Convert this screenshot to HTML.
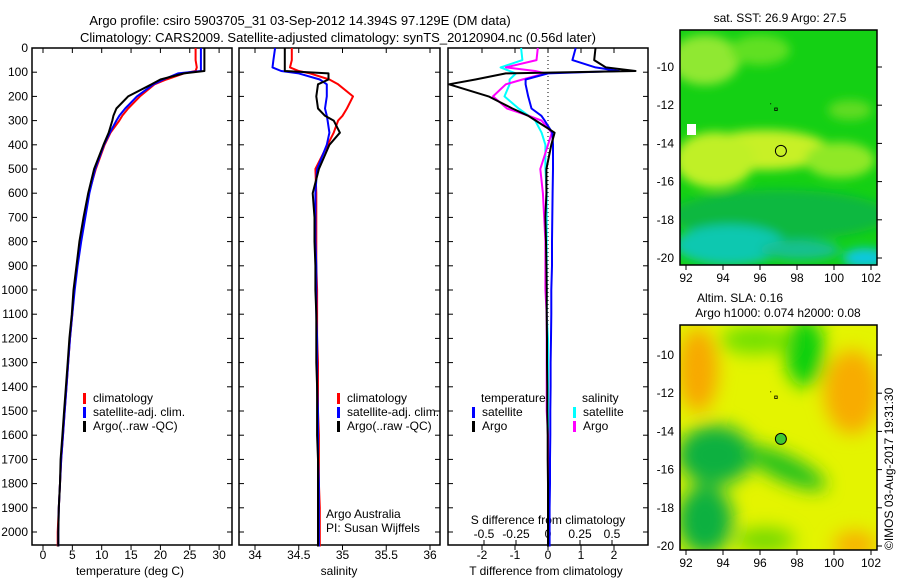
<!DOCTYPE html>
<html><head><meta charset="utf-8"><style>
html,body{margin:0;padding:0;background:#fff}
svg{display:block;font-family:"Liberation Sans",sans-serif}
text{font-size:12px;fill:#000}
</style></head><body>
<svg id="root" width="900" height="580" viewBox="0 0 900 580">
<defs>
<filter id="bl1" x="-50%" y="-50%" width="200%" height="200%"><feGaussianBlur stdDeviation="5"/></filter>
<filter id="bl2" x="-50%" y="-50%" width="200%" height="200%"><feGaussianBlur stdDeviation="9"/></filter>
<clipPath id="c1"><rect x="680" y="30" width="197" height="235"/></clipPath>
<clipPath id="c2"><rect x="680" y="325" width="197" height="225"/></clipPath>
</defs>
<text x="300" y="25" text-anchor="middle" style="font-size:13px">Argo profile: csiro 5903705_31 03-Sep-2012 14.394S 97.129E (DM data)</text>
<text x="338" y="42" text-anchor="middle" style="font-size:13px">Climatology: CARS2009. Satellite-adjusted climatology: synTS_20120904.nc (0.56d later)</text>
<g id="p1"></g>
<g id="p2"></g>
<g id="p3"></g>
<g id="m1" clip-path="url(#c1)">
 <rect x="680" y="30" width="197" height="235" fill="#14d014"/>
 <g filter="url(#bl1)">
  <ellipse cx="705" cy="60" rx="35" ry="25" fill="#90e830"/>
  <ellipse cx="760" cy="50" rx="30" ry="15" fill="#60e020"/>
  <ellipse cx="765" cy="150" rx="65" ry="20" fill="#c8f028"/>
  <ellipse cx="715" cy="160" rx="40" ry="28" fill="#c0f028"/>
  <ellipse cx="840" cy="160" rx="35" ry="18" fill="#90e828"/>
  <ellipse cx="850" cy="110" rx="22" ry="10" fill="#60dc20"/>
  <ellipse cx="780" cy="215" rx="110" ry="25" fill="#10b840"/>
  <ellipse cx="730" cy="245" rx="55" ry="20" fill="#10c8b0"/>
  <ellipse cx="865" cy="258" rx="22" ry="10" fill="#10c8e0"/>
  <ellipse cx="800" cy="250" rx="40" ry="10" fill="#18c090"/>
 </g>
 <rect x="687" y="124" width="9" height="11" fill="#fff"/>
</g>
<g id="m2" clip-path="url(#c2)">
 <rect x="680" y="325" width="197" height="225" fill="#e4f400"/>
 <g filter="url(#bl2)">
  <ellipse cx="698" cy="370" rx="20" ry="42" fill="#f8a800"/>
  <ellipse cx="852" cy="392" rx="28" ry="42" fill="#f8ac00"/>
  <ellipse cx="855" cy="545" rx="22" ry="14" fill="#f8b000"/>
  <ellipse cx="805" cy="352" rx="20" ry="35" fill="#10d010"/>
  <ellipse cx="755" cy="340" rx="35" ry="14" fill="#70e000"/>
  <ellipse cx="715" cy="455" rx="38" ry="30" fill="#10b040"/>
  <ellipse cx="785" cy="468" rx="45" ry="13" fill="#20c020" transform="rotate(25 785 468)"/>
  <ellipse cx="705" cy="520" rx="28" ry="35" fill="#10b040"/>
  <ellipse cx="765" cy="540" rx="30" ry="12" fill="#70d800"/>
 </g>
</g>
<g id="mapaxes"></g>
<text x="780" y="22" text-anchor="middle">sat. SST: 26.9 Argo: 27.5</text>
<text x="740" y="302" text-anchor="middle">Altim. SLA: 0.16</text>
<text x="778" y="317" text-anchor="middle">Argo h1000: 0.074 h2000: 0.08</text>
<text transform="translate(893,550) rotate(-90)">©IMOS 03-Aug-2017 19:31:30</text>
</svg>
<script>
// ---- data ----
const depthTicks=[0,100,200,300,400,500,600,700,800,900,1000,1100,1200,1300,1400,1500,1600,1700,1800,1900,2000];
const tempTicks=[0,5,10,15,20,25,30];
const salTicks=[34,34.5,35,35.5,36];
const tdTicks=[-2,-1,0,1,2];
const sdTicks=[-0.5,-0.25,0,0.25,0.5];
const sdTickLabels=["-0.5","-0.25","0","0.25","0.5"];
const depths=[0,50,80,95,105,130,150,200,250,280,300,350,400,500,600,700,800,900,1000,1100,1200,1300,1400,1500,1600,1700,1800,1900,2000,2060];
const tempClim=[26,26,26.2,26,24,21,19,16.5,14.5,13.5,13,11.5,10.5,9,7.8,7,6.3,5.8,5.3,5,4.6,4.3,4,3.7,3.4,3.1,2.9,2.7,2.5,2.5];
const tempSat=[26.9,26.9,26.9,26.9,23,20.5,18.8,16,14,13,12.5,11.4,10.4,8.9,7.9,7.2,6.5,5.9,5.4,5,4.6,4.3,4,3.7,3.4,3.1,2.9,2.7,2.6,2.6];
const tempArgo=[27.5,27.5,27.5,27.5,24,20,18.5,14.5,12.5,12,11.8,11.2,10.3,8.7,7.7,6.9,6.2,5.7,5.2,4.9,4.5,4.2,3.9,3.6,3.3,3.0,2.9,2.7,2.6,2.6];
const salClim=[34.42,34.42,34.4,34.5,34.63,34.85,34.95,35.12,35.05,35.0,34.95,34.9,34.83,34.69,34.7,34.7,34.7,34.7,34.71,34.71,34.71,34.72,34.72,34.72,34.73,34.73,34.73,34.74,34.74,34.74];
const salSat=[34.23,34.21,34.2,34.3,34.5,34.74,34.82,34.82,34.8,34.82,34.83,34.85,34.82,34.71,34.69,34.69,34.69,34.7,34.7,34.7,34.71,34.71,34.71,34.72,34.72,34.72,34.73,34.73,34.73,34.73];
const salArgo=[34.34,34.34,34.34,34.34,34.84,34.84,34.72,34.7,34.72,34.8,34.9,34.97,34.85,34.73,34.66,34.68,34.68,34.69,34.69,34.7,34.7,34.7,34.71,34.71,34.71,34.72,34.72,34.72,34.72,34.72];
const tdSat=[0.84,0.74,1.44,2.15,0,-0.68,-0.68,-0.6,-0.5,-0.2,-0.1,0.13,0.15,0.15,0.14,0.13,0.12,0.12,0.1,0.1,0.09,0.08,0.08,0.07,0.07,0.06,0.06,0.05,0.05,0.05];
const tdArgo=[1.44,1.4,1.75,2.65,-1.28,-2.2,-3,-1.8,-1.08,-0.6,-0.37,0.2,0.1,-0.05,-0.05,-0.08,-0.06,-0.05,-0.04,-0.04,-0.03,-0.03,-0.02,-0.02,-0.01,-0.01,0.0,0.0,0.0,0.0];
const sdSat=[-0.21,-0.2,-0.37,-0.3,-0.25,-0.3,-0.3,-0.34,-0.23,-0.15,-0.1,-0.05,-0.02,-0.02,-0.01,-0.01,-0.01,-0.01,-0.01,-0.01,0,0,0,0,0,0,0,0,0,0];
const sdArgo=[-0.08,-0.09,-0.33,-0.1,-0.02,-0.2,-0.33,-0.43,-0.32,-0.15,-0.05,0.03,0.0,-0.06,-0.04,-0.03,-0.02,-0.02,-0.02,-0.01,-0.01,-0.01,-0.01,-0.01,0,0,0,0,0,0];
const lonTicks=[92,94,96,98,100,102];
const latTicks=[-10,-12,-14,-16,-18,-20];
const argoLon=97.129, argoLat=-14.394;

const NS='http://www.w3.org/2000/svg';
function el(parent,tag,attrs,txt){const e=document.createElementNS(NS,tag);for(const k in attrs)e.setAttribute(k,attrs[k]);if(txt!==undefined)e.textContent=txt;parent.appendChild(e);return e;}
const Y0=48, YK=0.242;
const yD=d=>Y0+d*YK;
const FT=48, FB=545;

function frame(g,x0,x1,name){
  const r=el(g,'rect',{x:x0,y:FT,width:x1-x0,height:FB-FT,fill:'none',stroke:'#000','stroke-width':1.5});
  
  
  depthTicks.forEach(d=>{
    el(g,'line',{x1:x0,x2:x0+5,y1:yD(d),y2:yD(d),stroke:'#000'});
    el(g,'line',{x1:x1-5,x2:x1,y1:yD(d),y2:yD(d),stroke:'#000'});
  });
}
function series(g,xf,vals,color,name){
  const pts=vals.map((v,i)=>xf(v).toFixed(1)+','+yD(depths[i]).toFixed(1)).join(' ');
  const p=el(g,'polyline',{points:pts,fill:'none',stroke:color,'stroke-width':2,'stroke-linejoin':'round'});
  
  
}
function legend(g,x,y,color,label,name){
  el(g,'rect',{x:x,y:y-9,width:3,height:11,fill:color});
  const t=el(g,'text',{x:x+10,y:y},label);
  
  
}

// panel 1 temperature
const p1=document.getElementById('p1');
const xT=v=>43+v*5.87;
frame(p1,32,232,'temperature');
depthTicks.forEach(d=>{const t=el(p1,'text',{x:28,y:yD(d)+4,'text-anchor':'end'},d);
  
  });
tempTicks.forEach(v=>{el(p1,'line',{x1:xT(v),x2:xT(v),y1:FB,y2:FB+5,stroke:'#000'});el(p1,'line',{x1:xT(v),x2:xT(v),y1:FT,y2:FT+5,stroke:'#000'});
  const t=el(p1,'text',{x:xT(v),y:FB+14,'text-anchor':'middle'},v);
  
  });
el(p1,'text',{x:130,y:575,'text-anchor':'middle',},'temperature (deg C)');
series(p1,xT,tempClim,'#ff0000','temp-climatology-line');
series(p1,xT,tempSat,'#0000ff','temp-satellite-line');
series(p1,xT,tempArgo,'#000000','temp-argo-line');
legend(p1,83,402,'#ff0000','climatology','legend-climatology');
legend(p1,83,416,'#0000ff','satellite-adj. clim.','legend-satellite');
legend(p1,83,430,'#000000','Argo(..raw -QC)','legend-argo');

// panel 2 salinity
const p2=document.getElementById('p2');
const xS=v=>255+(v-34)*87.5;
frame(p2,239,440,'salinity');
salTicks.forEach(v=>{el(p2,'line',{x1:xS(v),x2:xS(v),y1:FB,y2:FB+5,stroke:'#000'});el(p2,'line',{x1:xS(v),x2:xS(v),y1:FT,y2:FT+5,stroke:'#000'});
  const t=el(p2,'text',{x:xS(v),y:FB+14,'text-anchor':'middle'},v);
  
  });
el(p2,'text',{x:339,y:575,'text-anchor':'middle',},'salinity');
series(p2,xS,salClim,'#ff0000','sal-climatology-line');
series(p2,xS,salSat,'#0000ff','sal-satellite-line');
series(p2,xS,salArgo,'#000000','sal-argo-line');
legend(p2,337,402,'#ff0000','climatology','legend-climatology');
legend(p2,337,416,'#0000ff','satellite-adj. clim.','legend-satellite');
legend(p2,337,430,'#000000','Argo(..raw -QC)','legend-argo');
el(p2,'text',{x:326,y:518,},'Argo Australia');
el(p2,'text',{x:326,y:532,},'PI: Susan Wijffels');

// panel 3 differences
const p3=document.getElementById('p3');
const xTD=v=>548+v*33;
const xSD=v=>548+v*128;
frame(p3,448,648,'difference');
el(p3,'line',{x1:548,x2:548,y1:FT,y2:FB,stroke:'#000','stroke-dasharray':'1,3',});
tdTicks.forEach(v=>{el(p3,'line',{x1:xTD(v),x2:xTD(v),y1:FB,y2:FB+5,stroke:'#000'});el(p3,'line',{x1:xTD(v),x2:xTD(v),y1:FT,y2:FT+5,stroke:'#000'});
  const t=el(p3,'text',{x:xTD(v),y:FB+14,'text-anchor':'middle'},v);
  
  });
sdTicks.forEach((v,i)=>{el(p3,'line',{x1:xSD(v),x2:xSD(v),y1:FB-5,y2:FB,stroke:'#000'});
  const t=el(p3,'text',{x:xSD(v),y:FB-7,'text-anchor':'middle'},sdTickLabels[i]);
  
  });
el(p3,'text',{x:548,y:524,'text-anchor':'middle',},'S difference from climatology');
el(p3,'text',{x:546,y:575,'text-anchor':'middle',},'T difference from climatology');
series(p3,xSD,sdSat,'#00ffff','sdiff-satellite-line');
series(p3,xSD,sdArgo,'#ff00ff','sdiff-argo-line');
series(p3,xTD,tdSat,'#0000ff','tdiff-satellite-line');
series(p3,xTD,tdArgo,'#000000','tdiff-argo-line');
el(p3,'text',{x:481,y:402,},'temperature');
el(p3,'text',{x:582,y:402,},'salinity');
legend(p3,472,416,'#0000ff','satellite','legend-t-satellite');
legend(p3,472,430,'#000000','Argo','legend-t-argo');
legend(p3,573,416,'#00ffff','satellite','legend-s-satellite');
legend(p3,573,430,'#ff00ff','Argo','legend-s-argo');

// maps
const ma=document.getElementById('mapaxes');
function mapAxes(x0,y0,w,h,lat10y,lat20y,name,fillCircle){
  const xL=v=>686+(v-92)*18.5;
  const yL=v=>lat10y+(-10-v)*(lat20y-lat10y)/10;
  const r=el(ma,'rect',{x:x0,y:y0,width:w,height:h,fill:'none',stroke:'#000','stroke-width':1.5});
  
  
  lonTicks.forEach(v=>{el(ma,'line',{x1:xL(v),x2:xL(v),y1:y0+h,y2:y0+h+5,stroke:'#000'});
    const t=el(ma,'text',{x:xL(v),y:y0+h+17,'text-anchor':'middle'},v);
    
    });
  latTicks.forEach(v=>{el(ma,'line',{x1:x0+w,x2:x0+w+5,y1:yL(v),y2:yL(v),stroke:'#000'});
    const t=el(ma,'text',{x:x0-6,y:yL(v)+4,'text-anchor':'end'},v);
    
    });
  const c=el(ma,'circle',{cx:xL(argoLon),cy:yL(argoLat),r:5.5,fill:fillCircle,stroke:'#000','stroke-width':1});
  
  
  el(ma,'rect',{x:xL(96.85)-1,y:yL(-12.2)-1,width:2.5,height:2.5,fill:'none',stroke:'#000','stroke-width':0.8});
  el(ma,'rect',{x:xL(96.55),y:yL(-11.9),width:1,height:1,fill:'#000'});
}
mapAxes(680,30,197,235,67,258,'sst-map','none');
mapAxes(680,325,197,225,355,546,'sla-map','#40c830');
</script>
</body></html>
